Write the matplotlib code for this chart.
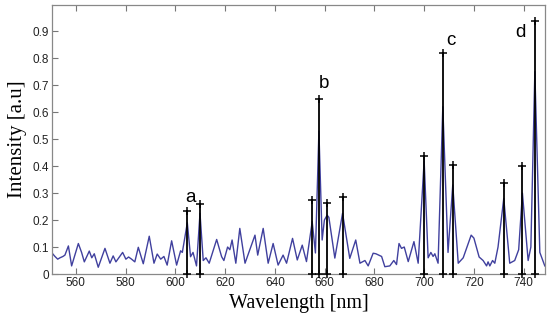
import matplotlib
matplotlib.use("Agg")
import matplotlib.pyplot as plt
import numpy as np

# spectrum (nm, a.u.)
wavelength = [550.4, 551.6, 552.7, 553.6, 554.8, 555.6, 557.0, 558.3, 561.0, 562.3,
              563.4, 565.4, 566.4, 567.4, 569.0, 571.7, 573.7, 575.0, 576.1, 578.8,
              580.1, 581.2, 582.4, 583.7, 585.1, 587.1, 589.5, 591.4, 592.7, 594.1,
              595.4, 596.7, 598.5, 600.5, 602.1, 602.8, 604.8, 606.1, 607.1, 608.5,
              609.9, 611.2, 612.3, 613.6, 616.6, 618.6, 619.5, 621.0, 621.9, 622.8,
              624.3, 625.9, 628.0, 632.0, 633.1, 635.3, 637.3, 639.3, 641.3, 643.3,
              644.7, 647.1, 649.0, 651.0, 652.7, 655.0, 656.3, 657.7, 659.0, 659.9,
              661.0, 661.7, 664.1, 667.2, 670.1, 672.5, 674.2, 676.2, 677.5, 679.5,
              680.6, 682.9, 684.2, 686.2, 687.8, 688.9, 689.9, 690.9, 692.0, 693.6,
              695.9, 697.6, 700.0, 701.6, 702.7, 703.6, 704.3, 705.6, 707.5, 709.6,
              711.5, 713.7, 715.7, 718.9, 720.0, 722.1, 723.7, 725.1, 725.7, 726.4,
              727.5, 728.4, 729.7, 732.0, 734.4, 736.4, 738.0, 739.5, 741.8, 742.9,
              744.5, 746.5, 748.5]
intensity = [0.078, 0.065, 0.055, 0.06, 0.065, 0.07, 0.104, 0.03, 0.113, 0.08,
             0.045, 0.085, 0.06, 0.075, 0.025, 0.095, 0.04, 0.067, 0.045, 0.08,
             0.055, 0.063, 0.055, 0.045, 0.099, 0.038, 0.14, 0.04, 0.074, 0.055,
             0.065, 0.033, 0.123, 0.033, 0.086, 0.08, 0.19, 0.064, 0.08, 0.03,
             0.225, 0.05, 0.06, 0.04, 0.128, 0.064, 0.05, 0.10, 0.09, 0.126,
             0.04, 0.169, 0.04, 0.144, 0.07, 0.169, 0.04, 0.113, 0.033, 0.07,
             0.04, 0.132, 0.052, 0.107, 0.046, 0.194, 0.078, 0.53, 0.126, 0.2,
             0.218, 0.21, 0.059, 0.225, 0.058, 0.126, 0.04, 0.05, 0.03, 0.077,
             0.075, 0.065, 0.027, 0.03, 0.05, 0.035, 0.113, 0.095, 0.1, 0.046,
             0.12, 0.04, 0.42, 0.06, 0.08, 0.065, 0.075, 0.04, 0.62, 0.08,
             0.33, 0.04, 0.06, 0.144, 0.133, 0.063, 0.05, 0.03, 0.045, 0.03,
             0.05, 0.04, 0.1, 0.28, 0.04, 0.05, 0.09, 0.30, 0.05, 0.1,
             0.75, 0.08, 0.03]

# identified lines
line_pos = [604.8, 609.9, 655.0, 657.7, 661.0, 667.2, 700.0, 707.5, 711.5, 732.0, 739.5, 744.5]
line_top = [0.234, 0.26, 0.274, 0.65, 0.262, 0.286, 0.437, 0.82, 0.404, 0.336, 0.40, 0.938]

# letters over the main lines
label_text = ['a', 'b', 'c', 'd']
label_x = [605.9, 659.7, 710.7, 738.9]
label_y = [0.285, 0.707, 0.867, 0.896]

fig = plt.figure(figsize=(5.5, 3.26), dpi=100)
ax = fig.add_axes([0.0945, 0.1595, 0.8965, 0.8252])

ax.plot(wavelength, intensity, color='#40409e', lw=1.0, zorder=2,
        solid_joinstyle='round')

ax.vlines(line_pos, 0, line_top, color='black', lw=1.3, zorder=3)
ax.plot(line_pos, line_top, '+', color='black', ms=6, mew=1.1, zorder=4)
ax.plot(line_pos, [0] * len(line_pos), '+', color='black', ms=6, mew=1.1, zorder=4,
        clip_on=False)

for t, x, y in zip(label_text, label_x, label_y):
    ax.text(x, y, t, ha='center', va='center', fontsize=13.5, family='Liberation Sans')

ax.set_xlim(550.4, 748.6)
ax.set_ylim(0, 0.997)
ax.set_xticks(np.arange(560, 741, 20))
ax.set_yticks(np.arange(0, 0.91, 0.1))
ax.set_yticklabels(['0', '0.1', '0.2', '0.3', '0.4', '0.5', '0.6', '0.7', '0.8', '0.9'])

ax.tick_params(direction='in', length=4, width=0.8, color='#777777', top=True,
               labelsize=8.5, labelcolor='#222222', pad=2)
for lab in ax.get_xticklabels() + ax.get_yticklabels():
    lab.set_family('Liberation Sans')
for s in ax.spines.values():
    s.set_color('#888888')
    s.set_linewidth(0.9)

ax.set_xlabel('Wavelength [nm]', fontsize=14.5, family='Liberation Serif', labelpad=4)
ax.set_ylabel('Intensity [a.u]', fontsize=15, family='Liberation Serif', labelpad=4)

fig.savefig('out.png', dpi=100)
